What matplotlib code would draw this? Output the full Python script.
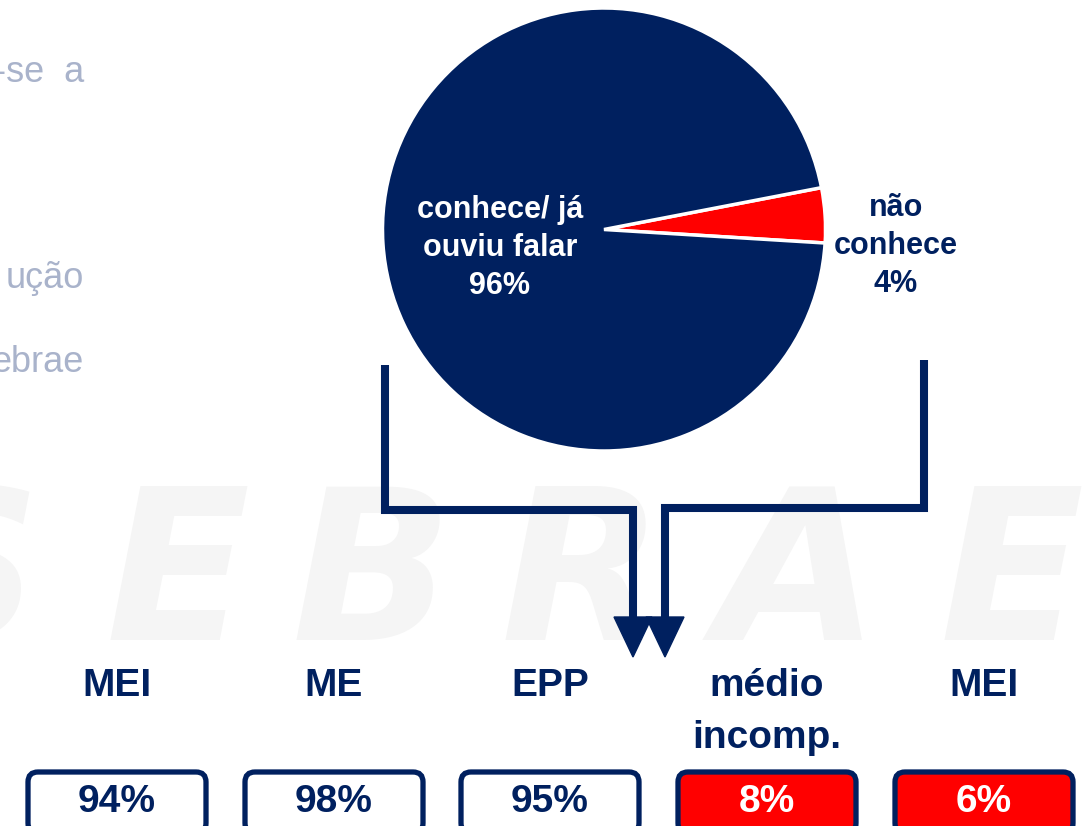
import matplotlib
matplotlib.use("Agg")
import matplotlib.pyplot as plt
from matplotlib.patches import FancyBboxPatch, Polygon

plt.rcParams['font.family'] = ['Liberation Sans', 'DejaVu Sans']

# ---- data ----
pie_labels = ["não\nconhece", "conhece/ já\nouviu falar"]
pie_values = [4, 96]
seg_labels = ["MEI", "ME", "EPP", "médio\nincomp.", "MEI"]
seg_values = [94, 98, 95, 8, 6]
seg_group = ["conhece", "conhece", "conhece", "não", "não"]
bg_lines = ["-se  a", "ução", "ebrae"]
watermark = "SEBRAE"

NAVY = "#00205F"
RED = "#FF0000"
W, H = 1082, 826

fig = plt.figure(figsize=(W / 100, H / 100), dpi=100)
ax = fig.add_axes([0, 0, 1, 1])

def Y(y):
    return H - y

# watermark (faint, letter by letter)
for ch, x in zip(watermark, [-35, 178, 372, 582, 797, 1012]):
    ax.text(x, Y(582), ch, fontsize=152, fontweight='bold', style='italic',
            family=['DejaVu Sans'], color='#f5f5f5', ha='center', va='center', zorder=0)

# faint background text
for txt, y in zip(bg_lines, [72, 278, 362]):
    ax.text(84, Y(y), txt, fontsize=26, color='#A9B3CB', ha='right', va='center', zorder=1)

# pie
ax.pie(pie_values, colors=[RED, NAVY], startangle=-3.5, counterclock=True,
       center=(604, Y(229.5)), radius=221.5, explode=[0.03, 0],
       wedgeprops=dict(edgecolor='white', linewidth=2.5), frame=True)
ax.set_xlim(0, W)
ax.set_ylim(0, H)
ax.set_aspect('equal')
ax.axis('off')

ax.text(500, Y(248), f"{pie_labels[1]}\n{pie_values[1]}%", color='white', fontsize=22,
        fontweight='bold', ha='center', va='center', linespacing=1.35, zorder=5)
ax.text(896, Y(246), f"{pie_labels[0]}\n{pie_values[0]}%", color=NAVY, fontsize=22,
        fontweight='bold', ha='center', va='center', linespacing=1.35, zorder=5)

# connectors
lw = 5.8
ax.plot([385, 385, 633, 633], [Y(365), Y(510), Y(510), Y(622)], color=NAVY, lw=lw,
        solid_joinstyle='miter', solid_capstyle='butt', zorder=3)
ax.plot([924, 924, 665, 665], [Y(360), Y(508), Y(508), Y(622)], color=NAVY, lw=lw,
        solid_joinstyle='miter', solid_capstyle='butt', zorder=3)
for cx in (633, 665):
    ax.add_patch(Polygon([(cx - 19, Y(617)), (cx + 19, Y(617)), (cx, Y(657))],
                         closed=True, color=NAVY, zorder=4))

# bottom segments
box_x0 = [26, 243, 459, 676, 893]
box_w = 182
for x0, lab, val, grp in zip(box_x0, seg_labels, seg_values, seg_group):
    cx = x0 + box_w / 2
    for i, line in enumerate(lab.split('\n')):
        ax.text(cx, Y(686 + 52 * i), line, color=NAVY, fontsize=28, fontweight='bold',
                ha='center', va='center', zorder=5)
    face = 'white' if grp == 'conhece' else RED
    tcol = NAVY if grp == 'conhece' else 'white'
    ax.add_patch(FancyBboxPatch((x0 + 6, Y(829)), box_w - 12, 829 - 776,
                                boxstyle="round,pad=4,rounding_size=10",
                                facecolor=face, edgecolor=NAVY, linewidth=3.8, zorder=4,
                                clip_on=False))
    ax.text(cx, Y(802), f"{val}%", color=tcol, fontsize=28, fontweight='bold',
            ha='center', va='center', zorder=6)

fig.savefig("out.png", dpi=100, facecolor='white')
